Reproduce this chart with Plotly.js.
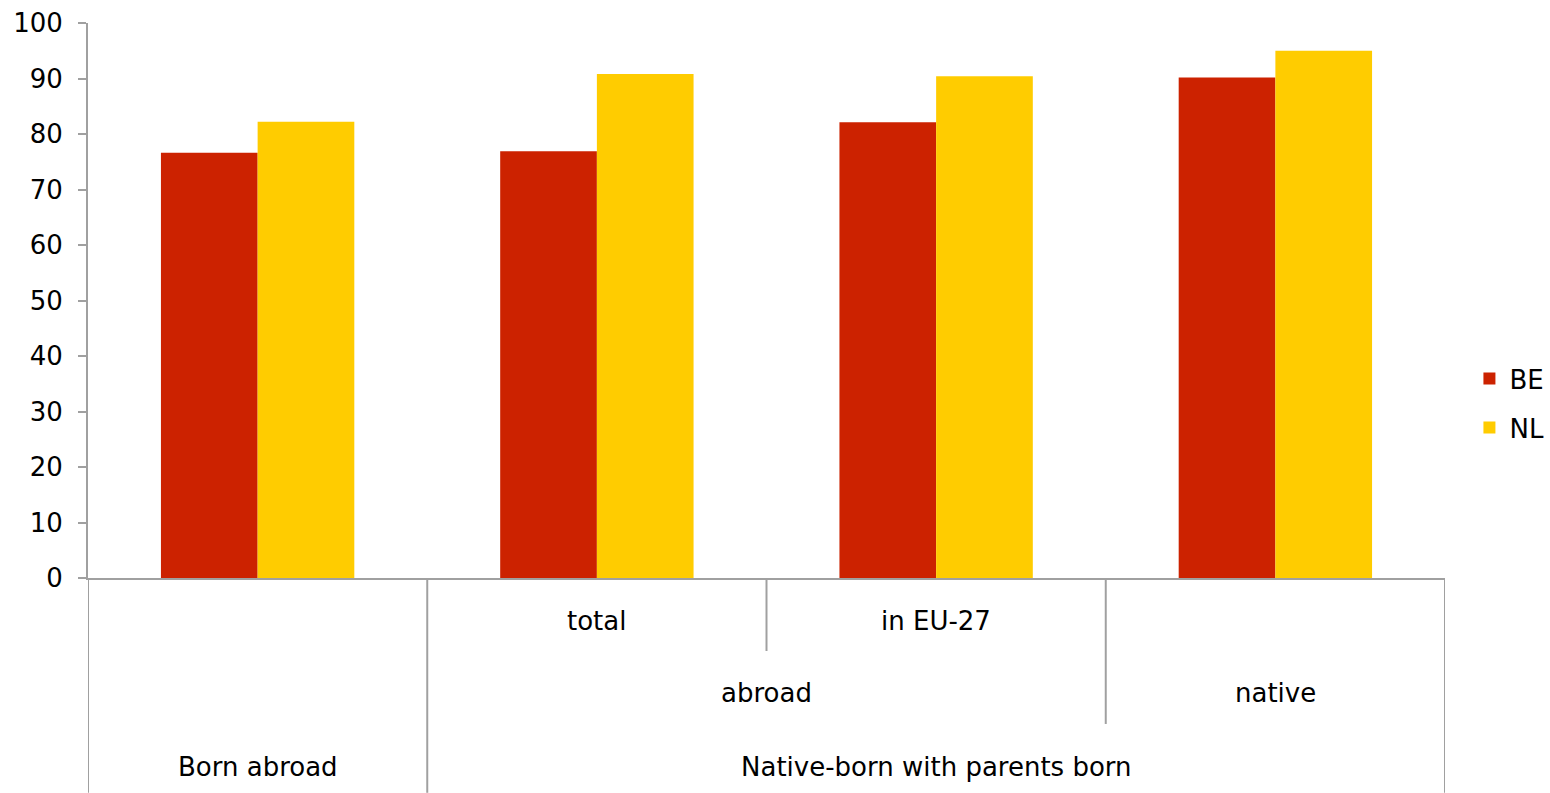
<!DOCTYPE html>
<html>
<head>
<meta charset="utf-8">
<script src="https://cdn.plot.ly/plotly-3.0.1.min.js"></script>
<style>html,body{margin:0;padding:0;background:#fff;}#chart{width:1550px;height:793px;}</style>
</head>
<body>
<div id="chart"></div>
<script>
var categories = ["Born abroad", "total", "in EU-27", "native"];
var seriesNames = ["BE", "NL"];
var beValues = [76.6, 76.9, 82.1, 90.2];
var nlValues = [82.2, 90.8, 90.4, 95.0];
var level2Labels = ["abroad", "native"];
var level3Labels = ["Born abroad", "Native-born with parents born"];
var yTicks = [0, 10, 20, 30, 40, 50, 60, 70, 80, 90, 100];

var FONT = "DejaVu Sans, Verdana, sans-serif";
var FS = 26;
var AX = "#a0a0a0";
var xIdx = categories.map(function(c, i){ return i; });

var traces = [
  {type: "bar", name: seriesNames[0], x: xIdx, y: beValues, marker: {color: "#CC2200"}, legendgroup: "a", hoverinfo: "y"},
  {type: "bar", name: seriesNames[1], x: xIdx, y: nlValues, marker: {color: "#FFCC00"}, legendgroup: "b", hoverinfo: "y"}
];

var yB1 = -0.1315, yB2 = -0.263, yB3 = -0.387;
var shapes = [];
function vline(x, y1){ shapes.push({type: "line", xref: "x", yref: "paper", x0: x, x1: x, y0: 0, y1: y1, line: {color: AX, width: 2}}); }
vline(-0.5, yB3);
vline(0.5, yB3);
vline(1.5, yB1);
vline(2.5, yB2);
vline(3.5, yB3);

var annotations = [];
function lab(x, y, t){ annotations.push({xref: "x", yref: "paper", x: x, y: y, text: t, showarrow: false, xanchor: "center", yanchor: "middle", font: {family: FONT, size: FS, color: "#000"}}); }
lab(1, -0.0775, categories[1]);
lab(2, -0.0775, categories[2]);
lab(1.5, -0.207, level2Labels[0]);
lab(3, -0.207, level2Labels[1]);
lab(0, -0.3405, level3Labels[0]);
lab(2, -0.3405, level3Labels[1]);

var layout = {
  width: 1550, height: 793,
  margin: {l: 88, r: 105, t: 23, b: 215, autoexpand: false},
  paper_bgcolor: "#fff", plot_bgcolor: "#fff",
  barmode: "group", bargap: 0.43, bargroupgap: 0,
  font: {family: FONT, size: FS, color: "#000"},
  xaxis: {range: [-0.5, 3.5], showticklabels: false, showgrid: false, zeroline: false, showline: true, linecolor: AX, linewidth: 2, ticks: "", fixedrange: true},
  yaxis: {range: [0, 100], tickvals: yTicks, ticktext: yTicks.map(String), showgrid: false, zeroline: false, showline: true, linecolor: AX, linewidth: 2, ticks: "outside", ticklen: 8, tickcolor: AX, tickwidth: 2, ticklabelstandoff: 10, tickfont: {family: FONT, size: FS, color: "#000"}, fixedrange: true},
  legend: {x: 1.018, xanchor: "left", y: 0.315, yanchor: "middle", traceorder: "grouped", tracegroupgap: 12, font: {family: FONT, size: FS, color: "#000"}, itemwidth: 30},
  shapes: shapes,
  annotations: annotations,
  showlegend: true
};

Plotly.newPlot("chart", traces, layout, {displayModeBar: false, staticPlot: true});
</script>
</body>
</html>
